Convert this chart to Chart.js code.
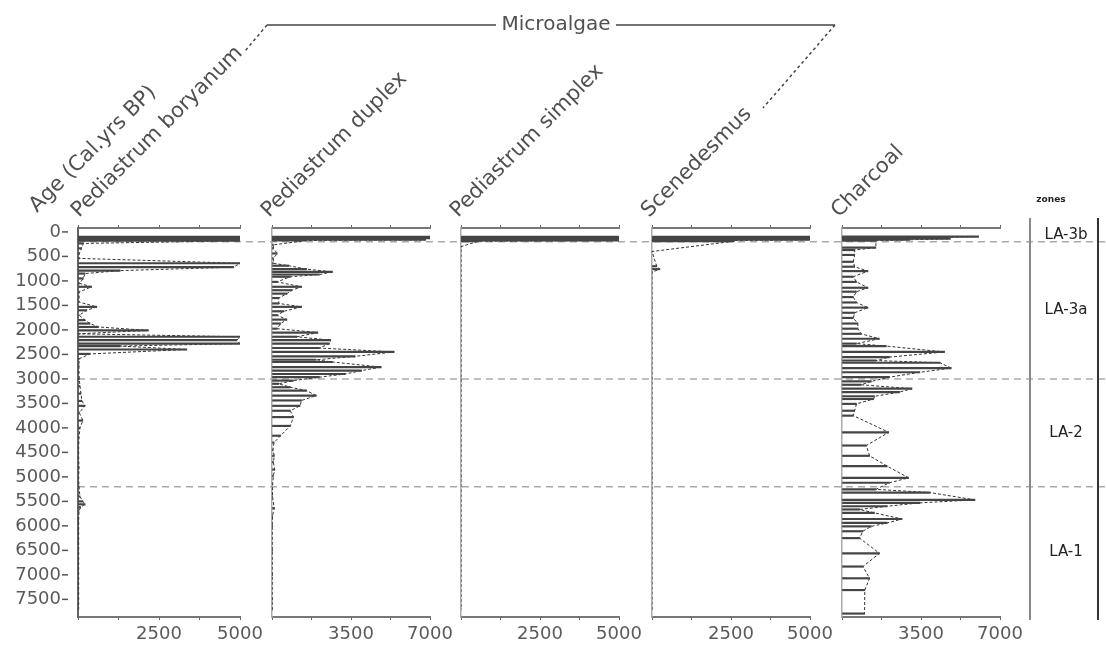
<!DOCTYPE html>
<html>
<head>
<meta charset="utf-8">
<title>Microalgae</title>
<script src="https://cdn.jsdelivr.net/npm/chart.js@4.4.1/dist/chart.umd.min.js"></script>
<style>
  html, body { margin: 0; padding: 0; background: #fff; }
  #stage { position: relative; width: 1106px; height: 646px; overflow: hidden; }
  #stage canvas { position: absolute; top: 0; }
</style>
</head>
<body>
<div id="stage"></div>
<script>
// age axis (cal. yrs BP)
const ageTicks = [0, 500, 1000, 1500, 2000, 2500, 3000, 3500, 4000, 4500, 5000, 5500, 6000, 6500, 7000, 7500];
const ageMin = -80, ageMax = 7860;

// zones
const zoneBreaks = [200, 3000, 5200];
const zoneNames = ['LA-3b', 'LA-3a', 'LA-2', 'LA-1'];

// value ticks
const ticks5000 = [0, 1250, 2500, 3750, 5000];
const labels5000 = [2500, 5000];
const ticks7000 = [0, 1750, 3500, 5250, 7000];
const labels7000 = [3500, 7000];

const taxa = ['Pediastrum boryanum', 'Pediastrum duplex', 'Pediastrum simplex', 'Scenedesmus', 'Charcoal'];

const boryanumAge = [100,120,140,160,180,235,335,440,540,640,720,790,850,950,1050,1120,1225,1330,1430,
  1530,1600,1700,1800,1870,1940,2010,2080,2140,2210,2280,2330,2400,2490,2590,2730,2860,3000,3150,3300,
  3450,3550,3690,3850,4000,4200,4400,4600,4800,5000,5200,5400,5500,5560,5620,5700,5900,6100,6300,6500,
  6700,6900,7100,7300,7500,7700];
const boryanum = [5000,5000,5000,5000,5000,160,110,40,30,5000,4800,1300,216,165,45,420,35,30,30,
  580,270,35,216,370,630,2170,30,5000,4900,5000,1300,3360,370,35,30,28,40,60,90,
  120,216,40,150,60,30,20,20,30,20,30,60,150,220,80,30,20,20,20,20,
  20,20,20,20,20,20];

const duplexAge = [100,115,130,145,160,175,265,335,440,540,640,690,760,815,870,915,1020,1120,1190,1260,
  1350,1460,1530,1620,1700,1790,1870,1975,2055,2140,2210,2280,2370,2450,2540,2610,2655,2760,2830,2900,
  2965,3035,3100,3170,3240,3340,3440,3550,3650,3780,3960,4160,4300,4450,4570,4700,4850,4980,5150,5400,
  5640,5800,6000,6500,7000,7500,7700];
const duplex = [7000,1900,7000,2000,6800,1500,60,60,230,60,60,740,1530,2680,2100,810,230,1310,880,660,
  300,300,1310,520,230,660,380,230,2030,1100,2600,2540,2100,5410,3680,1960,2680,4840,3970,3250,
  2100,950,300,810,1530,1960,1310,1240,810,950,810,380,90,40,100,60,120,60,30,20,
  100,20,10,10,10,10,10];

const simplexAge = [100,120,140,160,175,190,300,1000,3000,5000,7700];
const simplex = [5000,5000,5000,5000,5000,550,0,0,0,0,0];

const scenedesmusAge = [100,120,140,160,175,190,400,700,760,820,1500,3000,5000,7700];
const scenedesmus = [5000,5000,5000,5000,2600,2600,0,150,250,0,0,0,0,0];

const charcoalAge = [95,110,125,140,160,180,320,370,470,610,710,800,915,1020,1140,1220,1330,1440,1545,1650,
  1755,1870,1975,2080,2180,2280,2330,2450,2555,2625,2670,2780,2865,2965,3050,3120,3200,3270,3355,3410,
  3510,3650,3750,4090,4360,4570,4780,5020,5120,5255,5320,5470,5530,5600,5665,5735,5860,5940,6010,6110,
  6250,6560,6830,7070,7310,7790];
const charcoal = [6050,4750,4700,4800,3000,1500,1500,560,560,500,560,1150,500,640,1150,640,500,640,1150,560,
  500,700,700,850,1650,640,1960,4540,2100,1500,4340,4840,3450,2100,1300,850,3100,2550,1440,1400,
  640,560,500,2070,1080,1220,2000,2950,2100,1500,3900,5890,3450,2000,780,1440,2660,2000,1300,920,
  780,1660,930,1220,1010,1000];

const panels = [
  { left: 78,  ages: boryanumAge,    vals: boryanum,    max: 5000, ticks: ticks5000, labels: labels5000 },
  { left: 268, ages: duplexAge,      vals: duplex,      max: 7000, ticks: ticks7000, labels: labels7000 },
  { left: 457, ages: simplexAge,     vals: simplex,     max: 5000, ticks: ticks5000, labels: labels5000 },
  { left: 648, ages: scenedesmusAge, vals: scenedesmus, max: 5000, ticks: ticks5000, labels: labels5000 },
  { left: 838, ages: charcoalAge,    vals: charcoal,    max: 7000, ticks: ticks7000, labels: labels7000 }
];
const plotW = 162, padTop = 228, axisH = 29;
const tickFont = { family: 'DejaVu Sans', size: 18 };
const textCol = '#5a5a5a';

const stage = document.getElementById('stage');
function addCanvas(left, w) {
  const c = document.createElement('canvas');
  c.width = w; c.height = 646;
  c.style.left = left + 'px';
  c.style.width = w + 'px'; c.style.height = '646px';
  stage.appendChild(c);
  return c;
}

// age labels on the left of the first panel, placed through its y scale
const ageAxis = {
  id: 'ageAxis',
  afterDraw(chart) {
    const ctx = chart.ctx, y = chart.scales.y, x0 = chart.chartArea.left;
    ctx.save();
    ctx.font = '18px "DejaVu Sans"';
    ctx.fillStyle = textCol;
    ctx.strokeStyle = '#555';
    ctx.lineWidth = 1.5;
    ctx.textAlign = 'right'; ctx.textBaseline = 'middle';
    ageTicks.forEach(v => {
      const py = y.getPixelForValue(v);
      ctx.fillText(String(v), x0 - 17, py);
      ctx.beginPath(); ctx.moveTo(x0 - 16, py); ctx.lineTo(x0 - 10, py); ctx.stroke();
    });
    ctx.restore();
  }
};

// background: zone column, titles, bracket
const decor = {
  id: 'decor',
  afterDraw(chart) {
    const ctx = chart.ctx, y = chart.scales.y;
    ctx.save();
    ctx.lineWidth = 2;
    ctx.strokeStyle = '#888';
    ctx.beginPath(); ctx.moveTo(1030, 218); ctx.lineTo(1030, 620); ctx.stroke();
    ctx.strokeStyle = '#333';
    ctx.beginPath(); ctx.moveTo(1098, 218); ctx.lineTo(1098, 620); ctx.stroke();
    ctx.fillStyle = '#222';
    ctx.font = 'bold 9px "DejaVu Sans"';
    ctx.textAlign = 'center'; ctx.textBaseline = 'middle';
    ctx.fillText('zones', 1051, 200);
    const bounds = [ageMin].concat(zoneBreaks, [ageMax]);
    ctx.font = '15px "DejaVu Sans"';
    zoneNames.forEach((n, i) => {
      const mid = (bounds[i] + bounds[i + 1]) / 2;
      ctx.fillText(n, 1066, y.getPixelForValue(mid));
    });
    // titles
    ctx.fillStyle = '#505050';
    ctx.font = '21px "DejaVu Sans"';
    ctx.textAlign = 'left'; ctx.textBaseline = 'alphabetic';
    const drawRot = (t, x0, y0) => {
      ctx.save(); ctx.translate(x0, y0); ctx.rotate(-Math.PI / 4); ctx.fillText(t, 0, 0); ctx.restore();
    };
    drawRot('Age (Cal.yrs BP)', 37, 213);
    taxa.forEach((t, i) => drawRot(t, panels[i].left + 1, 218));
    // Microalgae bracket
    ctx.textAlign = 'center'; ctx.textBaseline = 'middle';
    ctx.font = '20px "DejaVu Sans"';
    ctx.fillText('Microalgae', 556, 25);
    ctx.strokeStyle = '#444'; ctx.lineWidth = 1.5;
    ctx.beginPath(); ctx.moveTo(267, 25); ctx.lineTo(496, 25); ctx.moveTo(616, 25); ctx.lineTo(835, 25); ctx.stroke();
    ctx.setLineDash([3, 3]);
    ctx.beginPath(); ctx.moveTo(267, 25); ctx.lineTo(245, 51); ctx.moveTo(835, 25); ctx.lineTo(763, 108); ctx.stroke();
    ctx.restore();
  }
};

new Chart(addCanvas(0, 1106), {
  type: 'scatter',
  data: {
    datasets: zoneBreaks.map(b => ({
      data: [{ x: 0, y: b }, { x: 1, y: b }],
      showLine: true, borderColor: '#aaa', borderWidth: 1.5, borderDash: [7, 5], pointRadius: 0
    }))
  },
  options: {
    responsive: false, animation: false, events: [],
    plugins: { legend: { display: false }, tooltip: { enabled: false } },
    layout: { padding: { top: padTop, left: 78, right: 0, bottom: axisH } },
    scales: {
      x: { display: false, min: 0, max: 1 },
      y: { display: false, reverse: true, min: ageMin, max: ageMax }
    }
  },
  plugins: [decor]
});

panels.forEach((p, i) => {
  const yw = i === 0 ? 78 : 0;
  const canvas = addCanvas(p.left - yw, yw + plotW + 30);
  const pts = p.ages.map((a, k) => ({ x: p.vals[k], y: a }));
  const setTicks = s => { s.ticks = p.ticks.map(v => ({ value: v })); };
  new Chart(canvas, {
    data: {
      datasets: [
        { type: 'bar', data: pts, xAxisID: 'x', yAxisID: 'y', backgroundColor: '#444', borderWidth: 0, barThickness: 1.5 },
        { type: 'line', data: pts, xAxisID: 'x', yAxisID: 'y', borderColor: '#333', borderWidth: 1,
          borderDash: [3, 2], pointRadius: 0, fill: false, tension: 0 }
      ]
    },
    options: {
      indexAxis: 'y', responsive: false, animation: false, events: [],
      plugins: { legend: { display: false }, tooltip: { enabled: false } },
      layout: { padding: { top: padTop, right: 30, left: 0, bottom: 0 } },
      scales: {
        x: {
          type: 'linear', position: 'bottom', min: 0, max: p.max,
          afterBuildTicks: setTicks,
          afterFit: s => { s.height = axisH; },
          ticks: { callback: v => p.labels.includes(v) ? String(v) : '', font: tickFont, color: textCol,
                   padding: 4, maxRotation: 0, autoSkip: false },
          grid: { drawOnChartArea: false, tickLength: 3, tickColor: '#666' },
          border: { color: '#777', width: 2 }
        },
        xTop: {
          type: 'linear', axis: 'x', position: 'top', min: 0, max: p.max,
          afterBuildTicks: setTicks,
          afterFit: s => { s.height = 0; },
          ticks: { display: false },
          grid: { drawOnChartArea: false, tickLength: 3, tickColor: '#666' },
          border: { color: '#777', width: 2 }
        },
        y: {
          type: 'linear', reverse: true, min: ageMin, max: ageMax,
          afterBuildTicks: s => { s.ticks = []; },
          afterFit: s => { s.width = yw; },
          ticks: { display: false },
          grid: { drawOnChartArea: false, drawTicks: false },
          border: { color: i === 0 ? '#666' : '#aaa', width: i === 0 ? 2 : 1.5 }
        }
      }
    },
    plugins: i === 0 ? [ageAxis] : []
  });
});
</script>
</body>
</html>
